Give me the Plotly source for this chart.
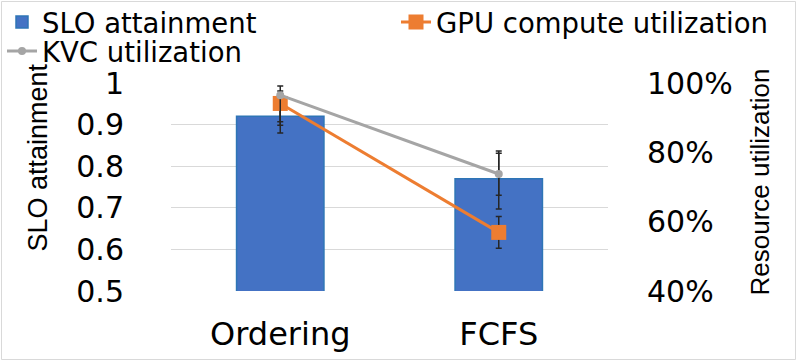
import plotly.graph_objects as go

categories = ["Ordering", "FCFS"]
slo = [0.92, 0.77]
slo_err_plus = [0.04, 0.061]
slo_err_minus = [0.04, 0.073]
gpu = [0.941, 0.569]
gpu_err_plus = [0.036, 0.046]
gpu_err_minus = [0.063, 0.046]
kvc = [0.965, 0.7375]
kvc_err_plus = [0.026, 0.066]
kvc_err_minus = [0.077, 0.061]
left_ticks = [0.5, 0.6, 0.7, 0.8, 0.9, 1.0]
right_ticks = [0.4, 0.6, 0.8, 1.0]

FONT = "DejaVu Sans"
ERR = dict(type="data", symmetric=False, color="#262626", thickness=1.5, width=3)

fig = go.Figure()
fig.add_trace(go.Bar(
    x=categories, y=slo, name="SLO attainment", legend="legend",
    marker=dict(color="#4472C4", line=dict(color="#2E75B6", width=1.5)),
    error_y=dict(array=slo_err_plus, arrayminus=slo_err_minus, **ERR),
))
fig.add_trace(go.Scatter(
    x=categories, y=gpu, name="GPU compute utilization", yaxis="y2", legend="legend2",
    mode="lines+markers",
    line=dict(color="#ED7D31", width=3),
    marker=dict(symbol="square", size=15, color="#ED7D31"),
    error_y=dict(array=gpu_err_plus, arrayminus=gpu_err_minus, **ERR),
))
fig.add_trace(go.Scatter(
    x=categories, y=kvc, name="KVC utilization", yaxis="y2", legend="legend3",
    mode="lines+markers",
    line=dict(color="#A5A5A5", width=3),
    marker=dict(symbol="circle", size=8, color="#A5A5A5"),
    error_y=dict(array=kvc_err_plus, arrayminus=kvc_err_minus, **ERR),
))

L = 171
T = 83
PW = 437
PH = 208


def px_x(px):
    return (px - L) / PW


def px_y(py):
    return (T + PH - py) / PH


legend_common = dict(
    orientation="v", xanchor="left", yanchor="middle", xref="paper", yref="paper",
    font=dict(family=FONT, size=27.5, color="#000000"),
    itemwidth=30, bgcolor="rgba(0,0,0,0)",
)

fig.update_layout(
    width=797, height=361,
    margin=dict(l=L, r=797 - L - PW, t=T, b=361 - T - PH, autoexpand=False),
    paper_bgcolor="white", plot_bgcolor="white",
    font=dict(family=FONT, color="#000000"),
    bargap=0.6,
    showlegend=True,
    legend=dict(x=px_x(2), y=px_y(22), **legend_common),
    legend2=dict(x=px_x(396), y=px_y(22), **legend_common),
    legend3=dict(x=px_x(2), y=px_y(51), **legend_common),
    xaxis=dict(
        type="category", range=[-0.5, 1.5], showgrid=False, showline=False,
        ticks="", tickfont=dict(family=FONT, size=32), ticklabelstandoff=21,
    ),
    yaxis=dict(
        range=[0.5, 1.0], tickvals=left_ticks, ticktext=[f"{v:g}" for v in left_ticks],
        showgrid=True, gridcolor="#D9D9D9", gridwidth=1, zeroline=False,
        showline=False, ticks="", tickfont=dict(family=FONT, size=30),
        ticklabelstandoff=46,
    ),
    yaxis2=dict(
        overlaying="y", side="right", range=[0.4, 1.0], tickvals=right_ticks,
        ticktext=[f"{round(v*100)}%" for v in right_ticks],
        showgrid=False, zeroline=False, showline=False, ticks="",
        tickfont=dict(family=FONT, size=30), ticklabelstandoff=38,
    ),
    annotations=[
        dict(text="SLO attainment", textangle=-90, xref="paper", yref="paper",
             x=px_x(37), y=px_y(157.5), xanchor="center", yanchor="middle", showarrow=False,
             font=dict(family="Liberation Sans Narrow, Liberation Sans", size=27, color="#000000")),
        dict(text="Resource utilization", textangle=-90, xref="paper", yref="paper",
             x=px_x(759), y=px_y(182.5), xanchor="center", yanchor="middle", showarrow=False,
             font=dict(family="Liberation Sans Narrow, Liberation Sans", size=26, color="#000000")),
    ],
    shapes=[
        dict(type="rect", xref="paper", yref="paper",
             x0=px_x(1.5), x1=px_x(795.5), y0=px_y(359.5), y1=px_y(1.5),
             line=dict(color="#D9D9D9", width=1), fillcolor="rgba(0,0,0,0)", layer="below"),
    ],
)

fig.write_html(
    "out.html",
    config={"displayModeBar": False},
    post_script="document.body.style.margin='0px';",
)
